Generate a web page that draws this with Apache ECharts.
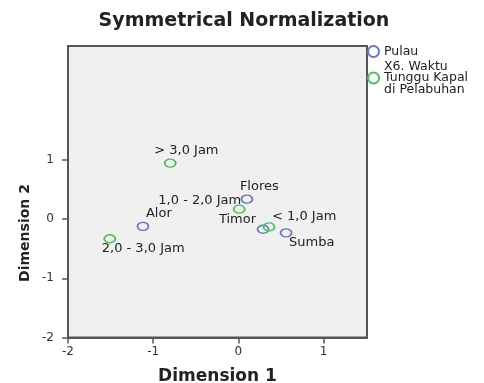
<!DOCTYPE html>
<html>
<head>
<meta charset="utf-8">
<script src="https://cdn.jsdelivr.net/npm/echarts@6/dist/echarts.min.js"></script>
<style>html,body{margin:0;padding:0;background:#fff}#c{width:484px;height:383px}</style>
</head>
<body>
<div id="c"></div>
<script>
// ---- data ----
const pulauNames = ['Flores', 'Alor', 'Timor', 'Sumba'];
const pulauDim1 = [0.10, -1.12, 0.29, 0.56];
const pulauDim2 = [0.34, -0.12, -0.17, -0.23];

const waktuNames = ['> 3,0 Jam', '2,0 - 3,0 Jam', '1,0 - 2,0 Jam', '< 1,0 Jam'];
const waktuDim1 = [-0.80, -1.51, 0.01, 0.36];
const waktuDim2 = [0.95, -0.33, 0.17, -0.13];

const tickValues = [-2, -1, 0, 1];
const seriesNames = ['Pulau', 'X6. Waktu\nTunggu Kapal\ndi Pelabuhan'];

// ---- style (label placement: [dx, dy, align]) ----
const pulauLabelPlace = {
  'Flores': [-7, -13, 'left'],
  'Alor': [3, -13, 'left'],
  'Timor': [-7, -10, 'right'],
  'Sumba': [3, 10, 'left']
};
const waktuLabelPlace = {
  '> 3,0 Jam': [-16, -12, 'left'],
  '2,0 - 3,0 Jam': [-8, 10, 'left'],
  '1,0 - 2,0 Jam': [2, -9, 'right'],
  '< 1,0 Jam': [3, -10, 'left']
};
const BLUE = '#6577c6';
const GREEN = '#4cc15a';
const FONT = 'DejaVu Sans';

function build(names, xs, ys, place) {
  return names.map((n, i) => ({
    name: n,
    value: [xs[i], ys[i]],
    label: {
      show: true,
      formatter: n,
      position: 'inside',
      align: place[n][2],
      verticalAlign: 'middle',
      offset: [place[n][0], place[n][1]]
    }
  }));
}

const chart = echarts.init(document.getElementById('c'), null, {renderer: 'canvas'});
const axisCommon = {
  type: 'value',
  interval: 1,
  axisLine: {show: true, onZero: false, lineStyle: {color: '#555', width: 2}},
  axisTick: {show: true, inside: false, length: 6, lineStyle: {color: '#555', width: 1.5}, customValues: tickValues},
  axisLabel: {color: '#333', fontSize: 12, fontFamily: FONT, customValues: tickValues},
  splitLine: {show: false}
};
const labelStyle = {color: '#222', fontSize: 13, fontFamily: FONT, textBorderWidth: 0};
chart.setOption({
  animation: false,
  title: {
    text: 'Symmetrical Normalization',
    left: 239, top: 7, textAlign: 'center',
    textStyle: {fontFamily: FONT, fontWeight: 'bold', fontSize: 19, color: '#222'}
  },
  grid: {
    left: 68, right: 117, top: 46, bottom: 45.5,
    outerBoundsMode: 'none', containLabel: false,
    show: true, backgroundColor: '#f0f0f0', borderColor: '#555', borderWidth: 2
  },
  xAxis: Object.assign({}, axisCommon, {
    min: -2, max: 1.51,
    axisLabel: Object.assign({}, axisCommon.axisLabel, {margin: 8}),
    name: 'Dimension 1', nameLocation: 'middle', nameGap: 31,
    nameTextStyle: {fontFamily: FONT, fontWeight: 'bold', fontSize: 17, color: '#222'}
  }),
  yAxis: Object.assign({}, axisCommon, {
    min: -2, max: 2.93,
    axisLabel: Object.assign({}, axisCommon.axisLabel, {margin: 14})
  }),
  graphic: [{
    type: 'text', x: 25, y: 233, rotation: Math.PI / 2,
    style: {text: 'Dimension 2', fontFamily: FONT, fontWeight: 'bold', fontSize: 14, fill: '#222', align: 'center', verticalAlign: 'middle'}
  }],
  legend: {
    orient: 'vertical', left: 367, top: 45, itemGap: 2,
    itemWidth: 13, itemHeight: 11, icon: 'circle', padding: 0,
    textStyle: {fontFamily: FONT, fontSize: 12.5, color: '#222', lineHeight: 11.5, padding: [0, 0, 0, -1]},
    data: seriesNames
  },
  series: [
    {
      name: seriesNames[0], type: 'scatter', symbol: 'circle', symbolSize: [11, 8],
      itemStyle: {color: 'rgba(0,0,0,0)', borderColor: BLUE, borderWidth: 1.6, opacity: 1},
      label: labelStyle,
      data: build(pulauNames, pulauDim1, pulauDim2, pulauLabelPlace)
    },
    {
      name: seriesNames[1], type: 'scatter', symbol: 'circle', symbolSize: [11, 8],
      itemStyle: {color: 'rgba(0,0,0,0)', borderColor: GREEN, borderWidth: 1.6, opacity: 1},
      label: labelStyle,
      data: build(waktuNames, waktuDim1, waktuDim2, waktuLabelPlace)
    }
  ]
});
</script>
</body>
</html>
